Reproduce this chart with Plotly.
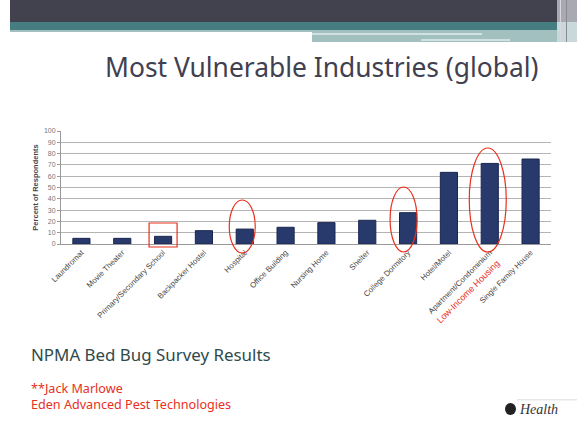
import plotly.graph_objects as go

categories = ["Laundromat", "Movie Theater", "Primary/Secondary School", "Backpacker Hostel",
              "Hospital", "Office Building", "Nursing Home", "Shelter", "College Dormitory",
              "Hotel/Motel", "Apartment/Condominium", "Single Family House"]
values = [5, 5, 6.8, 11.8, 13.2, 14.8, 18.9, 21, 27.7, 63.4, 71.3, 75.2]
y_ticks = [0, 10, 20, 30, 40, 50, 60, 70, 80, 90, 100]

W, H = 577, 424
L, R, T, B = 61, 551, 131, 244  # plot area in pixels


def px(x):
    return (x - L) / (R - L)


def py(y):
    return (B - y) / (B - T)


def cat_px(i):
    return L + (R - L) / len(categories) * (i + 0.5)


fig = go.Figure()
fig.add_trace(go.Bar(
    x=categories, y=values,
    marker=dict(color="#283a6c", line=dict(color="#1b2650", width=1)),
    width=0.42,
))

shapes = []


def rect(x0, y0, x1, y1, color):
    shapes.append(dict(type="rect", xref="paper", yref="paper",
                       x0=px(x0), x1=px(x1), y0=py(y0), y1=py(y1),
                       fillcolor=color, line=dict(width=0), layer="above"))


# banner
rect(10, 0, 557, 22, "#42424f")
rect(557, 0, 577, 22, "#a9a9b2")
rect(10, 22, 570, 30, "#467d80")
rect(10, 30, 312, 32, "#a3c0c1")
rect(312, 30, 565, 42, "#a3c0c1")
rect(312, 33.5, 482, 34.5, "#ffffff")
rect(421, 39.5, 510, 40.5, "#ffffff")
rect(557, 22, 577, 42, "#c9d9da")
rect(560, 0, 561, 42, "#d8d8dc")
rect(566, 0, 567, 42, "#8c8c96")

red = "#e8301c"
# highlight around Primary/Secondary School
i = 2
shapes.append(dict(
    type="rect", xref="paper", yref="paper",
    x0=px(cat_px(i) - 14), x1=px(cat_px(i) + 14), y0=py(247), y1=py(223),
    line=dict(color=red, width=1.2), layer="above"))


def ell(i, dx, half_w, y_top, y_bot):
    c = cat_px(i) + dx
    shapes.append(dict(type="circle", xref="paper", yref="paper",
                       x0=px(c - half_w), x1=px(c + half_w), y0=py(y_bot), y1=py(y_top),
                       line=dict(color=red, width=1.2), layer="above"))


ell(4, -2.5, 13, 200, 253)
ell(8, -4.5, 13.5, 187, 252)
ell(10, -2, 18.5, 148, 252)

# logo mark
shapes.append(dict(type="circle", xref="paper", yref="paper",
                   x0=px(505), x1=px(516), y0=py(415), y1=py(403),
                   fillcolor="#222222", line=dict(width=0), layer="above"))
rect(517, 399.5, 577, 400.2, "#cfcfcf")

annotations = [
    dict(text="Most Vulnerable Industries (global)", xref="paper", yref="paper",
         x=px(322), y=py(67), showarrow=False, xanchor="center", yanchor="middle",
         font=dict(family="Noto Sans", size=26.4, color="#404050")),
    dict(text="NPMA Bed Bug Survey Results", xref="paper", yref="paper",
         x=px(29), y=py(354), showarrow=False, xanchor="left", yanchor="middle",
         font=dict(family="Noto Sans", size=16.9, color="#2f4a4c")),
    dict(text="**Jack Marlowe<br>Eden Advanced Pest Technologies", xref="paper", yref="paper",
         x=px(29), y=py(396), showarrow=False, xanchor="left", yanchor="middle",
         align="left",
         font=dict(family="Noto Sans", size=12.6, color=red)),
    dict(text="Low-Income Housing", xref="paper", yref="paper",
         x=px(468), y=py(292), showarrow=False, textangle=-45,
         xanchor="center", yanchor="middle",
         font=dict(family="Liberation Sans", size=9, color=red)),
    dict(text="<i>Health</i>", xref="paper", yref="paper",
         x=px(517), y=py(409), showarrow=False, xanchor="left", yanchor="middle",
         font=dict(family="Liberation Serif", size=14, color="#333333")),
]

fig.update_layout(
    width=W, height=H,
    margin=dict(l=L, r=W - R, t=T, b=H - B),
    paper_bgcolor="white", plot_bgcolor="white",
    showlegend=False,
    shapes=shapes,
    annotations=annotations,
    xaxis=dict(
        tickangle=-45, tickfont=dict(family="Liberation Sans", size=7.8, color="#444444"),
        showgrid=False, showline=True, linecolor="#9a9a9a", linewidth=1,
        ticks="", fixedrange=True,
    ),
    yaxis=dict(
        range=[0, 100], tickvals=y_ticks,
        tickfont=dict(family="Liberation Sans", size=7, color="#777777"),
        showgrid=True, gridcolor="#b4b4b4", gridwidth=1,
        showline=True, linecolor="#9a9a9a", linewidth=1,
        ticks="outside", ticklen=3, tickcolor="#9a9a9a",
        title=dict(text="<b>Percent of Respondents</b>",
                   font=dict(family="Liberation Sans", size=7.5, color="#444444"),
                   standoff=4),
        zeroline=False, fixedrange=True,
    ),
)

fig.write_html("out.html", config={"displayModeBar": False},
               post_script="document.body.style.margin='0';")
